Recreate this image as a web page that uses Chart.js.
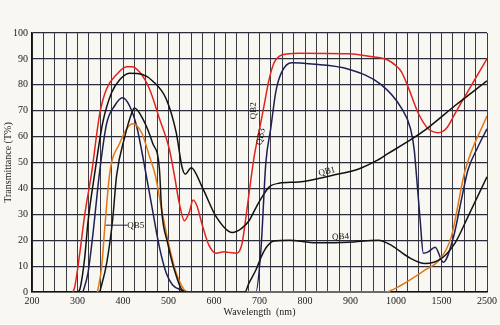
<!DOCTYPE html>
<html>
<head>
<meta charset="utf-8">
<script src="https://cdn.jsdelivr.net/npm/chart.js@4"></script>
<style>
  html, body { margin: 0; padding: 0; background: #f8f7f1; }
  #wrap { width: 500px; height: 325px; }
</style>
</head>
<body>
<div id="wrap"><canvas id="myChart" width="500" height="325"></canvas></div>
<script>
// tick labels along the wavelength axis (evenly spaced, scale breaks after 1000)
const tickLabels = [200, 300, 400, 500, 600, 700, 800, 900, 1000, 1500, 2500];

// QB1 - black
const qb1Nm = [300, 305, 316, 323, 338, 355, 375, 393, 414, 443, 465, 495, 517, 530, 537, 550, 574, 605, 640, 660, 677, 692, 705, 721, 743, 786, 859, 918, 955, 983, 1170, 1355, 1800, 2500];
const qb1T  = [0, 1, 13.5, 27, 46, 65, 77, 82, 84.5, 84, 81.5, 74.5, 61.5, 48, 45.5, 48, 40.5, 29, 23, 24.5, 27.5, 32.5, 36.5, 40.5, 42, 42.5, 45, 47.5, 50.5, 53.5, 59, 63.5, 72, 81.5];

// QB2 - red
const qb2Nm = [290, 294, 305, 316, 331, 349, 364, 386, 408, 419, 436, 458, 480, 502, 513, 524, 535, 546, 554, 563, 574, 589, 605, 622, 633, 649, 656, 662, 668, 677, 688, 699, 710, 721, 732, 743, 765, 786, 896, 940, 983, 999, 1060, 1135, 1245, 1355, 1465, 1600, 1800, 2080, 2500];
const qb2T  = [0, 2, 15, 30, 46, 69, 78.5, 84, 87, 87, 85, 78.5, 67, 55, 45, 34, 27.5, 31, 35.5, 33, 26, 18, 15, 15.5, 15.3, 15, 15.8, 19, 26, 38, 52, 62, 72, 82, 88.5, 91, 92, 92.2, 92, 91, 89.5, 87.5, 85, 79, 69, 63, 61.5, 63, 69, 77.5, 90];

// QB3 - navy
const qb3Nm = [312, 323, 333, 349, 364, 382, 399, 414, 430, 447, 465, 480, 495, 509, 530, 546, 692, 703, 714, 725, 736, 749, 771, 815, 896, 968, 1060, 1160, 1200, 1225, 1265, 1300, 1355, 1430, 1540, 1760, 1930, 2080, 2300, 2500];
const qb3T  = [0, 7.3, 21, 47, 65, 72, 75, 72, 64, 49, 31.5, 17.3, 7.3, 2.7, 0.7, 0, 0, 16, 50, 63.5, 77.5, 85, 88.5, 88, 86, 80, 71, 63, 55, 45, 28, 15, 15.5, 17.3, 11.5, 21, 35, 47, 56, 63];

// QB4 - black
const qb4Nm = [349, 364, 377, 386, 404, 419, 425, 443, 465, 480, 485, 498, 513, 530, 541, 668, 677, 692, 705, 714, 732, 765, 824, 896, 961, 990, 1135, 1320, 1500, 1800, 2080, 2500];
const qb4T  = [0, 11, 27.5, 45, 60, 69, 71, 67, 57.5, 47.5, 31.5, 19, 8.5, 0.7, 0, 0, 3.5, 8.5, 14, 17, 19.7, 20, 19, 19.2, 20, 18, 13.5, 11, 13, 19, 29, 44.5];

// QB5 - orange
const qb5Nm = [344, 353, 360, 371, 393, 408, 421, 441, 458, 471, 487, 502, 517, 535, 541, 977, 1060, 1320, 1465, 1710, 2020, 2500];
const qb5T  = [0, 9.6, 25, 46, 57.5, 63, 65, 61.5, 52.5, 45, 30, 17.3, 7.3, 0.7, 0, 0, 2.7, 8.5, 12, 21, 47, 68];

// curve labels: [text, nm, T, angle in degrees]
const curveLabels = [
  ['QB2', 688, 70, -90],
  ['QB3', 703, 60, -78],
  ['QB1', 848, 46.5, -14],
  ['QB4', 878, 21.3, -4],
  ['QB5', 428, 25.7, 0]
];
// leader line for QB5 (nm from, nm to, T)
const qb5Leader = [362, 410, 25.8];

// wavelength -> axis position (axis breaks after 1000 nm and 1500 nm)
function nmToPos(nm) {
  if (nm <= 1000) return (nm - 200) / 100;
  if (nm <= 1500) return 8 + (nm - 1000) / 500;
  return 9 + (nm - 1500) / 1000;
}

function toPoints(nms, ts) {
  return nms.map((nm, i) => ({ x: nmToPos(nm), y: ts[i] }));
}

const serif = "'Liberation Serif', 'DejaVu Serif', serif";

function makeSet(label, nms, ts, color) {
  return {
    label: label,
    data: toPoints(nms, ts),
    borderColor: color,
    borderWidth: 1.5,
    pointRadius: 0,
    fill: false,
    cubicInterpolationMode: 'monotone'
  };
}

const labelPlugin = {
  id: 'curveLabels',
  afterDatasetsDraw(chart) {
    const ctx = chart.ctx;
    const xs = chart.scales.x, ys = chart.scales.y;
    ctx.save();
    ctx.fillStyle = '#111';
    ctx.font = '9px ' + serif;
    ctx.textBaseline = 'middle';
    curveLabels.forEach(([txt, nm, t, ang]) => {
      ctx.save();
      ctx.translate(xs.getPixelForValue(nmToPos(nm)), ys.getPixelForValue(t));
      ctx.rotate(ang * Math.PI / 180);
      ctx.textAlign = 'center';
      ctx.fillText(txt, 0, 0);
      ctx.restore();
    });
    // leader line to QB5
    ctx.strokeStyle = '#1c1f5a';
    ctx.lineWidth = 1;
    ctx.beginPath();
    const ly = ys.getPixelForValue(qb5Leader[2]);
    ctx.moveTo(xs.getPixelForValue(nmToPos(qb5Leader[0])), ly);
    ctx.lineTo(xs.getPixelForValue(nmToPos(qb5Leader[1])), ly);
    ctx.stroke();
    ctx.restore();
  }
};

const bgPlugin = {
  id: 'bg',
  beforeDraw(chart) {
    const ctx = chart.ctx;
    ctx.save();
    ctx.fillStyle = '#f8f7f1';
    ctx.fillRect(0, 0, chart.width, chart.height);
    ctx.restore();
  }
};

const ctx = document.getElementById('myChart').getContext('2d');
const myChart = new Chart(ctx, {
  type: 'line',
  data: {
    datasets: [
      makeSet('QB4', qb4Nm, qb4T, '#151515'),
      makeSet('QB5', qb5Nm, qb5T, '#e07818'),
      makeSet('QB3', qb3Nm, qb3T, '#1d1f55'),
      makeSet('QB1', qb1Nm, qb1T, '#101010'),
      makeSet('QB2', qb2Nm, qb2T, '#e3221c')
    ]
  },
  options: {
    responsive: false,
    animation: false,
    layout: { padding: { top: 33, right: 11, left: 0, bottom: 0 } },
    plugins: {
      legend: { display: false },
      tooltip: { enabled: false }
    },
    scales: {
      x: {
        type: 'linear',
        min: 0,
        max: 10,
        afterFit: s => { s.height = 33; },
        ticks: {
          stepSize: 0.25,
          autoSkip: false,
          maxRotation: 0,
          padding: 3,
          color: '#222',
          font: { family: serif, size: 10 },
          callback: v => Number.isInteger(v) ? String(tickLabels[v]) : ''
        },
        grid: { color: '#3a3a40', lineWidth: 1, drawTicks: false },
        border: { color: '#111', width: 1.5 },
        title: {
          display: true,
          text: 'Wavelength  (nm)',
          color: '#222',
          font: { family: serif, size: 10 },
          padding: { top: 0, bottom: 7 }
        }
      },
      y: {
        min: 0,
        max: 100,
        afterFit: s => { s.width = 32; },
        ticks: {
          stepSize: 10,
          padding: 4,
          color: '#222',
          font: { family: serif, size: 10 }
        },
        grid: { color: '#2a2c3c', lineWidth: 1.2, drawTicks: false },
        border: { color: '#111', width: 1.5 },
        title: {
          display: true,
          text: 'Transmittance (T%)',
          color: '#222',
          font: { family: serif, size: 10 },
          padding: { top: 2, bottom: 0 }
        }
      }
    }
  },
  plugins: [bgPlugin, labelPlugin]
});
</script>
</body>
</html>
